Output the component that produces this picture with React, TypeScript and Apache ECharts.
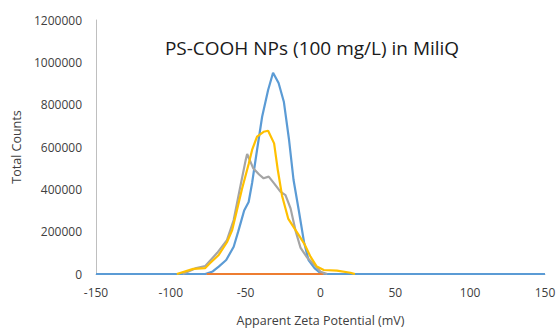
import React, { useEffect, useRef } from "react";
import * as echarts from "echarts";

const titleText = "PS-COOH NPs (100 mg/L) in MiliQ";
const xAxisName = "Apparent Zeta Potential (mV)";
const yAxisName = "Total Counts";

const blueX = [-150, -77, -72, -68, -63, -58, -55, -53, -51, -48, -45.7, -42.4, -39, -35, -31.7, -28, -24.5, -21, -18, -14.5, -11, -8, -4, -1, 3, 150];
const blueY = [0, 0, 12000, 35000, 66000, 129000, 200000, 250000, 300000, 340000, 430000, 586000, 743000, 869000, 951000, 902000, 814000, 633000, 444000, 300000, 150000, 66000, 28000, 10000, 0, 0];

const orangeX = [-76, -50, -25, 2];
const orangeY = [0, 0, 0, 0];

const grayX = [-92, -83, -77, -69, -62.5, -58, -53.6, -50, -49, -45, -41, -38, -34.6, -31, -26.8, -23.4, -20, -16.7, -13.4, -9, -3.3, 0, 4.5];
const grayY = [0, 28000, 38000, 100000, 160000, 255000, 412000, 538000, 567000, 500000, 470000, 452000, 460000, 428000, 389000, 373000, 310000, 205000, 125000, 78000, 38000, 11000, 0];

const yellowX = [-96, -85, -77, -73.7, -68, -62.5, -59, -55.8, -52.5, -48, -45.7, -42.4, -38, -35, -31, -28.5, -25.7, -21.5, -16, -11, -6.7, -2.5, 2.2, 11, 20, 23];
const yellowY = [0, 24000, 28000, 52000, 90000, 150000, 208000, 302000, 400000, 520000, 586000, 649000, 672000, 677000, 617000, 490000, 370000, 260000, 200000, 145000, 82000, 35000, 19000, 16000, 6000, 0];

const zip = (xs: number[], ys: number[]) => xs.map((x, i) => [x, ys[i]]);

export default function App() {
  const ref = useRef<HTMLDivElement>(null);
  useEffect(() => {
    if (!ref.current) return;
    const chart = echarts.init(ref.current, undefined, { renderer: "svg" });
    const font = "'Open Sans', Carlito, sans-serif";
    const mk = (name: string, color: string, xs: number[], ys: number[]) => ({
      name,
      type: "line",
      data: zip(xs, ys),
      showSymbol: false,
      symbol: "none",
      lineStyle: { color, width: 2.2 },
      itemStyle: { color },
    });
    chart.setOption({
      animation: false,
      backgroundColor: "#ffffff",
      title: {
        text: titleText,
        left: 307,
        top: 33,
        textAlign: "center",
        textStyle: { fontFamily: font, fontSize: 19, fontWeight: "normal", color: "#1a1a1a" },
      },
      grid: { left: 96, right: 11, top: 20, bottom: 55, containLabel: false, outerBoundsMode: "none" },
      xAxis: {
        type: "value",
        min: -150,
        max: 150,
        interval: 50,
        name: xAxisName,
        nameLocation: "middle",
        nameGap: 40,
        nameTextStyle: { fontFamily: font, fontSize: 12.5, color: "#404040" },
        axisLine: { show: true, onZero: false, lineStyle: { color: "#BFBFBF", width: 1 } },
        axisTick: { show: false },
        splitLine: { show: false },
        axisLabel: { fontFamily: font, fontSize: 12, color: "#404040", margin: 12 },
      },
      yAxis: {
        type: "value",
        min: 0,
        max: 1200000,
        interval: 200000,
        name: yAxisName,
        nameLocation: "middle",
        nameGap: 68,
        nameTextStyle: { fontFamily: font, fontSize: 12.5, color: "#404040" },
        axisLine: { show: true, onZero: false, lineStyle: { color: "#BFBFBF", width: 1 } },
        axisTick: { show: false },
        splitLine: { show: false },
        axisLabel: { fontFamily: font, fontSize: 12, color: "#404040", margin: 14, formatter: (v: number) => String(v) },
      },
      series: [
        mk("Blue", "#5B9BD5", blueX, blueY),
        mk("Orange", "#ED7D31", orangeX, orangeY),
        mk("Gray", "#A5A5A5", grayX, grayY),
        mk("Yellow", "#FFC000", yellowX, yellowY),
      ],
    });
    return () => chart.dispose();
  }, []);
  return <div ref={ref} style={{ position: "fixed", left: 0, top: 0, width: 556, height: 329 }} />;
}
